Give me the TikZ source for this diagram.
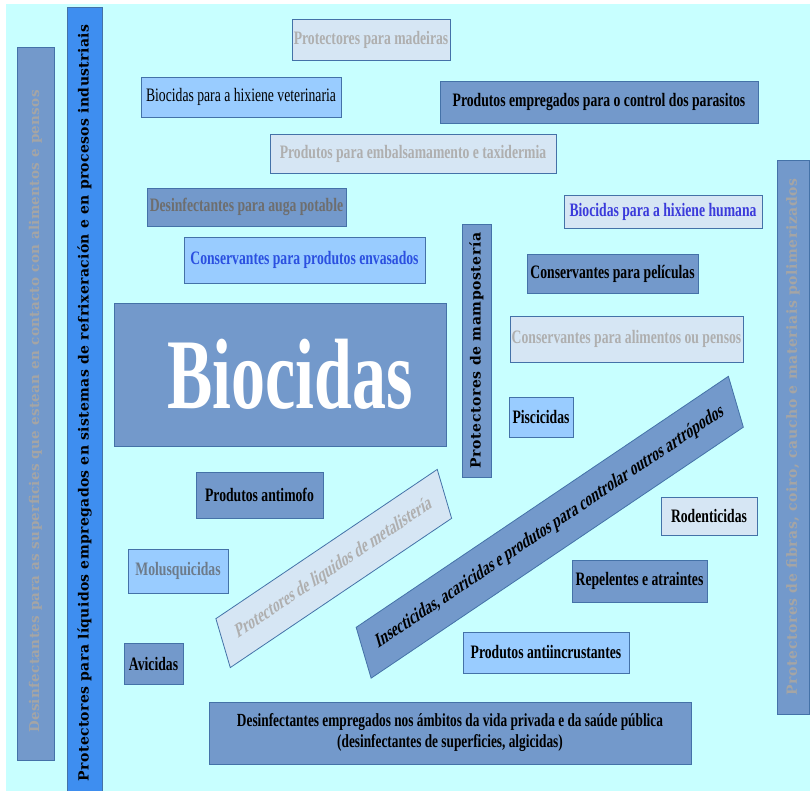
\documentclass[tikz,border=0pt]{standalone}
\usepackage{fontspec}
\setmainfont{Liberation Serif}[FakeStretch=0.72]
\newfontfamily\bigfont{Liberation Serif}[FakeStretch=0.68]
\newfontfamily\vfont{DejaVu Serif}[LetterSpace=4]
\newfontfamily\vfontb{DejaVu Serif}[LetterSpace=2.5]
\definecolor{cyanbg}{HTML}{C8FFFF}
\definecolor{midblue}{HTML}{7399CB}
\definecolor{lightblue}{HTML}{99CCFF}
\definecolor{paleblue}{HTML}{D6E6F4}
\definecolor{brightblue}{HTML}{3E8EF0}
\definecolor{bordcol}{HTML}{4472A8}
\definecolor{lgtext}{HTML}{AFAFAF}
\definecolor{dgtext}{HTML}{6E6E6E}
\definecolor{mgtext}{HTML}{6D7B8A}
\definecolor{violtext}{HTML}{3B3BDB}
\definecolor{bluetext}{HTML}{2B50E0}
\definecolor{vgtext}{HTML}{A5A5A5}
\tikzset{
  box/.style={draw=bordcol, line width=0.8pt, inner sep=0pt, font=\fontsize{19}{21}\selectfont\bfseries},
  midbox/.style={box, fill=midblue},
  lightbox/.style={box, fill=lightblue},
  palebox/.style={box, fill=paleblue},
  vbox/.style={box, rotate=90, font=\vfont\fontsize{14}{16}\selectfont\bfseries},
  shear/.style={cm={0.829,0.559,-0.282,0.959,(0,0)}}
}
\begin{document}
\begin{tikzpicture}[x=1pt,y=-1pt]
\useasboundingbox (0,0) rectangle (810,791);
\fill[white] (0,0) rectangle (810,791);
\fill[cyanbg] (6,4) rectangle (810,791);
% vertical boxes
\node[vbox, fill=midblue, text=vgtext, minimum width=713pt, minimum height=37pt, font=\vfontb\fontsize{13.5}{16}\selectfont\bfseries] (leftv) at (35.5,403.5)
  {Desinfectantes para as superficies que estean en contacto con alimentos e pensos\hspace*{16pt}};
\node[vbox, fill=brightblue, text=black, minimum width=784pt, minimum height=35pt, font=\vfontb\fontsize{14}{16}\selectfont\bfseries] (procv) at (84.5,399)
  {Protectores para líquidos empregados en sistemas de refrixeración e en procesos industriais\hspace*{8pt}};
\node[vbox, fill=midblue, text=black, minimum width=253pt, minimum height=29pt] (mamp) at (476.5,350.5)
  {Protectores de mampostería};
\node[vbox, fill=midblue, text=vgtext, minimum width=554pt, minimum height=32pt] (rightv) at (793,437)
  {Protectores de fibras, coiro, caucho e materiais polimerizados};
% main
\node[midbox, minimum width=332pt, minimum height=143pt, text=white, font=\bigfont\fontsize{100}{102}\selectfont\bfseries] (bio) at (280,374.5) {\hspace*{20pt}Biocidas};
% boxes
\node[palebox, text=lgtext, minimum width=158pt, minimum height=41pt] (mad) at (371,39.5) {Protectores para madeiras};
\node[lightbox, font=\fontsize{19}{21}\selectfont, minimum width=200pt, minimum height=40pt] (vet) at (241,97) {Biocidas para a hixiene veterinaria};
\node[midbox, minimum width=318pt, minimum height=42pt] (par) at (599,102) {Produtos empregados para o control dos parasitos};
\node[palebox, text=lgtext, minimum width=286pt, minimum height=39pt] (emb) at (413,153.5) {Produtos para embalsamamento e taxidermia};
\node[midbox, text=dgtext, minimum width=199pt, minimum height=38pt] (aug) at (246.5,207) {Desinfectantes para auga potable};
\node[lightbox, text=bluetext, minimum width=241pt, minimum height=46pt] (env) at (304.5,260) {Conservantes para produtos envasados};
\node[palebox, text=violtext, minimum width=198pt, minimum height=33pt] (hum) at (663,211.5) {Biocidas para a hixiene humana};
\node[midbox, minimum width=171pt, minimum height=39pt] (pel) at (612.5,273.5) {Conservantes para películas};
\node[palebox, text=lgtext, minimum width=233pt, minimum height=46pt] (ali) at (626.5,339) {Conservantes para alimentos ou pensos};
\node[lightbox, minimum width=64pt, minimum height=40pt] (pis) at (541,417) {Piscicidas};
\node[midbox, minimum width=127pt, minimum height=46pt] (mof) at (259.5,495) {Produtos antimofo};
\node[lightbox, text=mgtext, minimum width=100pt, minimum height=44pt] (mol) at (178,571) {Molusquicidas};
\node[midbox, minimum width=59pt, minimum height=41pt] (avi) at (153.5,663.5) {Avicidas};
\node[midbox, align=center, minimum width=482pt, minimum height=62pt, font=\fontsize{18.5}{21}\selectfont\bfseries] (priv) at (450,733)
  {Desinfectantes empregados nos ámbitos da vida privada e da saúde pública\\(desinfectantes de superficies, algicidas)};
\node[palebox, minimum width=96pt, minimum height=38pt] (rod) at (709,516) {Rodenticidas};
\node[midbox, minimum width=135pt, minimum height=42pt] (rep) at (639.5,581) {Repelentes e atraintes};
\node[lightbox, minimum width=166pt, minimum height=41pt] (inc) at (546,652.5) {Produtos antiincrustantes};
% sheared boxes
\node[palebox, shear, text=lgtext, font=\fontsize{20}{22}\selectfont\bfseries, minimum width=267pt, minimum height=51pt] (met) at (333.75,568.5) {Protectores de liquidos de metalistería};
\node[midbox, shear, font=\fontsize{20}{22}\selectfont\bfseries, minimum width=449pt, minimum height=53pt] (ins) at (549.75,527.25) {Insecticidas, acaricidas e produtos para controlar outros artrópodos};
\end{tikzpicture}
\end{document}
